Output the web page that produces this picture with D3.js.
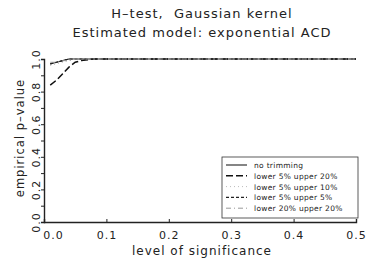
<!DOCTYPE html>
<html>
<head>
<meta charset="utf-8">
<script src="https://cdn.jsdelivr.net/npm/d3@7"></script>
<style>
  body { margin: 0; background: #fff; }
  svg { font-family: 'DejaVu Sans', sans-serif; }
  .tick text { font-family: 'DejaVu Sans', sans-serif; }
</style>
</head>
<body>
<div id="chart"></div>
<script>
// data
var levels = [0.01, 0.02, 0.03, 0.04, 0.05, 0.06, 0.08, 0.1, 0.15, 0.2, 0.25, 0.3, 0.35, 0.4, 0.45, 0.5];
var noTrimming   = [0.97, 0.98, 0.99, 1, 1, 1, 1, 1, 1, 1, 1, 1, 1, 1, 1, 1];
var low5up20     = [0.84, 0.87, 0.91, 0.95, 0.98, 0.99, 1, 1, 1, 1, 1, 1, 1, 1, 1, 1];
var low5up10     = [0.96, 0.97, 0.98, 0.99, 1, 1, 1, 1, 1, 1, 1, 1, 1, 1, 1, 1];
var low5up5      = [0.97, 0.98, 0.99, 1, 1, 1, 1, 1, 1, 1, 1, 1, 1, 1, 1, 1];
var low20up20    = [0.98, 0.98, 0.99, 0.99, 1, 1, 1, 1, 1, 1, 1, 1, 1, 1, 1, 1];
var seriesNames  = ['no trimming', 'lower 5% upper 20%', 'lower 5% upper 10%', 'lower 5% upper 5%', 'lower 20% upper 20%'];
var xTicks = [0, 0.1, 0.2, 0.3, 0.4, 0.5];
var yTicks = [0, 0.2, 0.4, 0.6, 0.8, 1.0];

var width = 383, height = 261;
var plotLeft = 44, plotRight = 356, plotTop = 59, plotBottom = 222;

var svg = d3.select('#chart').append('svg')
    .attr('width', width)
    .attr('height', height);

var x = d3.scaleLinear().domain([0, 0.5]).range([plotLeft, plotRight]);
var y = d3.scaleLinear().domain([0, 1]).range([plotBottom, plotTop]);

// titles
svg.append('text')
    .attr('x', 202).attr('y', 18)
    .attr('text-anchor', 'middle')
    .style('font-size', '13px')
    .style('letter-spacing', '1px')
    .style('white-space', 'pre')
    .attr('fill', '#222')
    .text('H\u2013test,  Gaussian kernel');

svg.append('text')
    .attr('x', 202).attr('y', 37)
    .attr('text-anchor', 'middle')
    .style('font-size', '13px')
    .style('letter-spacing', '1px')
    .attr('fill', '#222')
    .text('Estimated model: exponential ACD');

// axes
var xAxis = d3.axisBottom(x)
    .tickValues(xTicks)
    .tickSize(-3)
    .tickPadding(9)
    .tickFormat(d3.format('.1f'));

var gx = svg.append('g')
    .attr('transform', `translate(0,${plotBottom})`)
    .call(xAxis);
gx.select('.domain').attr('stroke', '#222').attr('stroke-width', 1.4);
gx.selectAll('.tick line').attr('stroke', '#222');
gx.selectAll('.tick text')
    .style('font-size', '11px')
    .style('letter-spacing', '1px')
    .attr('fill', '#222')
    .attr('dx', d => d === 0 ? 9 : 0);

var yAxis = d3.axisLeft(y)
    .tickValues(d3.range(0, 1.01, 0.1))
    .tickSize(3)
    .tickFormat(d => {
        var r = Math.round(d * 10);
        return r % 2 === 0 ? d3.format('.1f')(d) : '';
    });

var gy = svg.append('g')
    .attr('transform', `translate(${plotLeft},0)`)
    .call(yAxis);
gy.select('.domain').attr('stroke', '#222').attr('stroke-width', 1.4);
gy.selectAll('.tick line').attr('stroke', '#222');
gy.selectAll('.tick text')
    .style('font-size', '11px')
    .style('letter-spacing', '1px')
    .attr('fill', '#222')
    .attr('text-anchor', 'middle')
    .attr('transform', 'rotate(-90)')
    .attr('x', 0)
    .attr('y', -4)
    .attr('dy', 0);

// axis labels
svg.append('text')
    .attr('x', 202).attr('y', 255)
    .attr('text-anchor', 'middle')
    .style('font-size', '12px')
    .style('letter-spacing', '1px')
    .attr('fill', '#222')
    .text('level of significance');

svg.append('text')
    .attr('transform', 'translate(24,138)rotate(-90)')
    .attr('text-anchor', 'middle')
    .style('font-size', '11.5px')
    .style('letter-spacing', '1px')
    .attr('fill', '#222')
    .text('empirical p\u2013value');

// lines
var allSeries = [noTrimming, low5up20, low5up10, low5up5, low20up20];
var styles = [
    { dash: null, color: '#222', w: 1.1 },
    { dash: '7,3', color: '#111', w: 1.5 },
    { dash: '1,3', color: '#bbb', w: 1 },
    { dash: '3,2', color: '#222', w: 1.1 },
    { dash: '5,3,1,3', color: '#999', w: 1 }
];

var line = d3.line()
    .x((d, i) => x(levels[i]))
    .y(d => y(d));

svg.selectAll('path.series')
    .data(allSeries)
    .enter()
    .append('path')
    .attr('class', 'series')
    .attr('d', line)
    .attr('fill', 'none')
    .attr('stroke', (d, i) => styles[i].color)
    .attr('stroke-width', (d, i) => styles[i].w)
    .attr('stroke-dasharray', (d, i) => styles[i].dash);

// legend
var legend = svg.append('g').attr('transform', 'translate(222,157)');
legend.append('rect')
    .attr('width', 136).attr('height', 61)
    .attr('fill', '#fff')
    .attr('stroke', '#333')
    .attr('stroke-width', 0.8);

var rows = legend.selectAll('g.row')
    .data(seriesNames)
    .enter()
    .append('g')
    .attr('class', 'row')
    .attr('transform', (d, i) => `translate(0,${8 + i * 10.8})`);

rows.append('line')
    .attr('x1', 4).attr('x2', 25)
    .attr('stroke', (d, i) => styles[i].color)
    .attr('stroke-width', (d, i) => styles[i].w)
    .attr('stroke-dasharray', (d, i) => styles[i].dash);

rows.append('text')
    .attr('x', 32).attr('y', 3)
    .style('font-size', '7.5px')
    .style('letter-spacing', '0.3px')
    .attr('fill', '#222')
    .text(d => d);
</script>
</body>
</html>
